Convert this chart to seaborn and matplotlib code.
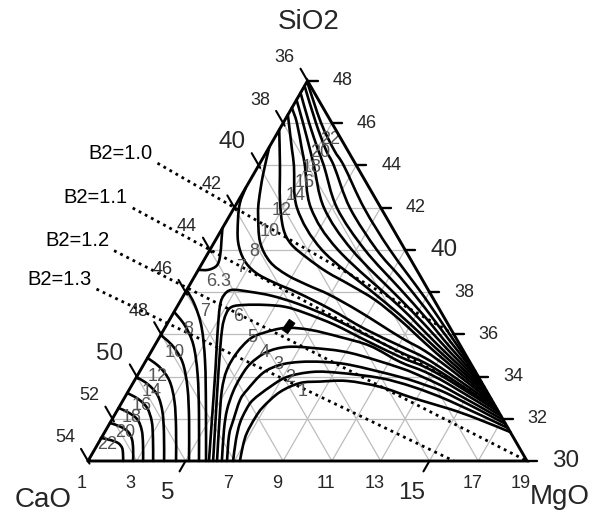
import numpy as np
import pandas as pd
import matplotlib
matplotlib.use("Agg")
import matplotlib.pyplot as plt
from matplotlib.path import Path
from matplotlib.patches import PathPatch
import seaborn as sns

# ---------------------------------------------------------------------------
# Composition window: CaO + SiO2 + MgO = 85 wt% (rest is Al2O3)
# ---------------------------------------------------------------------------
TOTAL = 85.0
SIO2_MIN = 30.0
MGO_MIN = 1.0
SPAN = 18.0

SIO2_TICKS = [30, 32, 34, 36, 38, 40, 42, 44, 46, 48]
CAO_TICKS = [36, 38, 40, 42, 44, 46, 48, 50, 52, 54]
MGO_TICKS = [1, 3, 5, 7, 9, 11, 13, 15, 17, 19]
SIO2_MAJOR = [30, 40]
CAO_MAJOR = [40, 50]
MGO_MAJOR = [5, 15]

# basicity lines B2 = CaO / SiO2
B2_VALUES = [1.0, 1.1, 1.2, 1.3]
B2_SIO2_START = [44.10, 41.98, 39.96, 38.14]
B2_SIO2_END = [36.00, 32.73, 30.00, 30.00]

# iso-lines running from the SiO2-rich corner down to the CaO = 36 side
UPPER_LEVELS = [22, 20, 18, 16, 14, 12, 10, 8, 7]
UPPER_SIO2 = [
    [47.90, 46.01, 44.73, 43.97, 41.98, 39.99, 37.72, 35.97, 34.22],
    [47.76, 46.01, 44.73, 43.97, 41.98, 39.99, 38.72, 37.25, 35.68, 33.98],
    [47.43, 46.01, 44.73, 43.97, 41.98, 39.99, 38.15, 36.82, 35.40, 33.74],
    [47.10, 46.01, 44.73, 43.97, 41.98, 39.99, 37.67, 36.44, 35.16, 33.51],
    [46.72, 46.01, 44.73, 43.97, 41.98, 39.99, 37.30, 36.11, 34.93, 33.32],
    [46.39, 44.73, 43.97, 41.98, 39.99, 38.10, 36.92, 35.83, 34.74, 33.13],
    [45.68, 44.02, 42.36, 41.04, 40.28, 39.62, 38.95, 38.34, 37.63, 36.68, 35.59, 34.55, 32.94],
    [44.87, 43.55, 42.36, 41.65, 40.37, 39.43, 38.81, 38.34, 37.86, 37.06, 35.87, 35.21, 34.36, 32.75],
    [42.93, 42.22, 41.42, 40.37, 39.52, 38.91, 38.43, 37.96, 37.20, 36.25, 35.45, 34.88, 34.12, 32.61],
]
UPPER_MGO = [
    [1.05, 2.55, 3.72, 4.51, 6.33, 8.39, 10.96, 12.86, 14.78],
    [1.00, 2.34, 3.39, 4.10, 5.75, 7.85, 9.43, 11.19, 13.00, 15.02],
    [1.00, 2.06, 3.07, 3.69, 5.22, 7.36, 9.72, 11.41, 13.14, 15.26],
    [1.00, 1.81, 2.74, 3.28, 4.69, 6.83, 9.96, 11.60, 13.26, 15.49],
    [1.00, 1.56, 2.41, 2.91, 4.15, 6.26, 10.14, 11.76, 13.38, 15.68],
    [1.00, 2.00, 2.46, 3.58, 5.60, 8.51, 10.33, 11.90, 13.47, 15.87],
    [1.00, 1.86, 2.69, 3.48, 4.18, 5.17, 6.32, 7.57, 8.95, 10.45, 12.02, 13.57, 16.06],
    [1.00, 1.40, 1.83, 2.15, 2.87, 3.75, 4.75, 5.81, 6.99, 8.62, 10.86, 12.21, 13.66, 16.25],
    [1.00, 1.12, 1.44, 1.97, 2.64, 3.43, 4.45, 5.63, 7.32, 9.23, 11.07, 12.38, 13.78, 16.39],
]

# low iso-lines rising from the SiO2 = 30 side and bending to the CaO = 36 side
MID_LEVELS = [6.3, 6, 5, 4, 3, 2, 1]
MID_SIO2 = [
    [30.0, 31.94, 34.31, 35.97, 37.34, 37.86, 38.10, 38.01, 37.82, 37.44, 36.82, 36.11, 35.16, 34.64, 33.93, 32.46],
    [30.0, 31.94, 34.31, 36.21, 36.96, 37.30, 37.39, 37.39, 37.30, 37.01, 36.44, 35.73, 34.93, 34.45, 33.79, 32.32],
    [30.0, 31.94, 33.36, 34.31, 35.12, 35.78, 36.06, 36.30, 36.21, 35.87, 35.45, 34.69, 34.22, 33.60, 32.13],
    [30.0, 31.47, 32.42, 33.27, 33.93, 34.59, 35.16, 35.40, 35.35, 35.12, 34.41, 33.93, 33.36, 31.94],
    [30.0, 31.23, 31.94, 32.89, 33.36, 34.17, 34.55, 34.69, 34.69, 34.55, 33.98, 33.60, 33.13, 31.75],
    [30.0, 30.99, 31.80, 32.42, 32.89, 33.51, 33.98, 34.22, 34.17, 33.93, 33.51, 32.84, 31.56],
    [30.0, 30.76, 31.33, 32.04, 32.56, 33.27, 33.69, 33.76, 33.79, 33.51, 32.98, 32.46, 32.04, 31.37],
]
MID_MGO = [
    [5.96, 5.11, 4.07, 3.32, 2.74, 2.65, 2.85, 3.64, 4.63, 5.89, 7.51, 9.10, 11.21, 12.50, 13.88, 16.54],
    [6.13, 5.26, 4.20, 3.39, 3.18, 3.25, 3.74, 4.56, 5.43, 6.39, 7.91, 9.49, 11.33, 12.59, 13.95, 16.68],
    [6.29, 5.42, 4.81, 4.54, 4.54, 4.75, 5.15, 5.93, 7.00, 8.40, 9.84, 11.45, 12.71, 14.04, 16.87],
    [6.49, 5.84, 5.49, 5.31, 5.27, 5.35, 5.75, 6.46, 7.55, 9.18, 11.59, 12.85, 14.16, 17.06],
    [6.70, 6.17, 5.99, 5.79, 5.84, 6.09, 6.60, 7.35, 8.29, 9.47, 11.80, 13.02, 14.28, 17.25],
    [6.95, 6.57, 6.33, 6.27, 6.32, 6.71, 7.17, 8.12, 9.25, 11.01, 12.57, 14.42, 17.44],
    [7.23, 6.98, 6.85, 6.83, 6.90, 7.24, 7.85, 8.63, 9.72, 11.22, 12.84, 14.61, 15.85, 17.63],
]

# closed 6.3 pocket on the MgO = 1 side
POCKET_LEVEL = 6.3
POCKET_SIO2 = [41.02, 40.47, 39.66, 39.24, 39.05, 39.05]
POCKET_MGO = [1.00, 1.24, 1.58, 1.65, 1.40, 1.00]

# iso-lines in the CaO-rich corner
LOWER_LEVELS = [7, 8, 10, 12, 14, 16, 18, 20, 22]
LOWER_SIO2 = [
    [38.10, 37.37, 36.32, 34.70, 32.59, 30.0],
    [37.06, 36.42, 35.50, 34.09, 32.26, 30.0],
    [35.97, 35.43, 34.66, 33.46, 31.91, 30.0],
    [34.88, 34.44, 33.80, 32.83, 31.56, 30.0],
    [33.98, 33.62, 33.10, 32.31, 31.27, 30.0],
    [33.22, 32.93, 32.51, 31.87, 31.03, 30.0],
    [32.51, 32.28, 31.96, 31.45, 30.81, 30.0],
    [31.80, 31.64, 31.40, 31.04, 30.58, 30.0],
    [31.09, 30.99, 30.85, 30.63, 30.35, 30.0],
]
LOWER_MGO = [
    [1.00, 1.70, 2.50, 3.45, 4.54, 5.84],
    [1.00, 1.76, 2.57, 3.45, 4.42, 5.55],
    [1.00, 1.77, 2.55, 3.35, 4.19, 5.14],
    [1.00, 1.72, 2.44, 3.13, 3.83, 4.61],
    [1.00, 1.66, 2.31, 2.90, 3.48, 4.12],
    [1.00, 1.60, 2.17, 2.68, 3.15, 3.67],
    [1.00, 1.54, 2.05, 2.48, 2.85, 3.26],
    [1.00, 1.48, 1.93, 2.28, 2.56, 2.85],
    [1.00, 1.43, 1.81, 2.08, 2.26, 2.44],
]

# measured composition (MgO, SiO2)
POINT_MGO = [6.0]
POINT_SIO2 = [36.4]

# where each iso-value is written: (value, MgO, SiO2)
LABEL_SPOTS = [
    (22, 3.32, 45.21), (20, 3.22, 44.59), (18, 3.24, 43.88), (16, 3.31, 43.17),
    (14, 3.25, 42.55), (12, 3.03, 41.84), (10, 3.04, 40.85), (8, 2.86, 39.90),
    (7, 2.70, 39.14), (6.3, 2.13, 38.48),
    (6, 3.74, 36.82), (5, 4.79, 35.87), (4, 5.70, 35.12), (3, 6.52, 34.55),
    (2, 7.32, 33.93), (1, 8.18, 33.27),
    (7, 2.27, 37.06), (8, 2.00, 36.21), (10, 1.99, 35.16), (12, 1.88, 33.98),
    (14, 1.99, 33.27), (16, 1.89, 32.65), (18, 1.76, 32.08), (20, 1.83, 31.37),
    (22, 1.40, 30.76),
]


def to_xy(mgo, sio2):
    """Ternary (MgO, SiO2) -> cartesian, CaO corner at the origin."""
    mgo = np.asarray(mgo, dtype=float)
    sio2 = np.asarray(sio2, dtype=float)
    b = (sio2 - SIO2_MIN) / SPAN
    t = (mgo - MGO_MIN) / SPAN
    return t + b / 2.0, b * np.sqrt(3.0) / 2.0


def smooth_path(x, y):
    """Cubic Bezier path passing through every given vertex."""
    pts = np.column_stack([x, y])
    n = len(pts)
    verts = [pts[0]]
    codes = [Path.MOVETO]
    for i in range(n - 1):
        p0 = pts[i - 1] if i > 0 else pts[i]
        p1 = pts[i]
        p2 = pts[i + 1]
        p3 = pts[i + 2] if i + 2 < n else pts[i + 1]
        verts += [p1 + (p2 - p0) / 6.0, p2 - (p3 - p1) / 6.0, p2]
        codes += [Path.CURVE4] * 3
    return Path(verts, codes)


sns.set_theme(style="white")
plt.rcParams["font.family"] = ["Liberation Sans", "DejaVu Sans"]

PX = 439.0
fig = plt.figure(figsize=(5.97, 5.14), dpi=100)
ax = fig.add_axes([0, 0, 1, 1])
ax.set_xlim(-88 / PX, 509 / PX)
ax.set_ylim(-53 / PX, 461 / PX)
ax.axis("off")

H = np.sqrt(3.0) / 2.0
GRID = "#bdbdbd"

# light triangular grid
for s in range(32, 48, 2):
    gx, gy = to_xy([MGO_MIN, TOTAL - 36 - s], [s, s])
    ax.plot(gx, gy, color=GRID, lw=0.9, zorder=1)
for m in range(3, 19, 2):
    gx, gy = to_xy([m, m], [SIO2_MIN, TOTAL - 36 - m])
    ax.plot(gx, gy, color=GRID, lw=0.9, zorder=1)
for c in range(38, 54, 2):
    gx, gy = to_xy([TOTAL - SIO2_MIN - c, MGO_MIN], [SIO2_MIN, TOTAL - MGO_MIN - c])
    ax.plot(gx, gy, color=GRID, lw=0.9, zorder=1)

# basicity lines
for b2, s0, s1 in zip(B2_VALUES, B2_SIO2_START, B2_SIO2_END):
    sio2 = np.array([s0, s1])
    mgo = TOTAL - (1.0 + b2) * sio2
    bx, by = to_xy(mgo, sio2)
    sns.lineplot(x=bx, y=by, sort=False, estimator=None, color="black",
                 lw=2.0, linestyle=(0, (1, 1.5)), ax=ax, zorder=3)
    ax.annotate(f"B2={b2:.1f}", xy=(bx[0], by[0]), xytext=(-5, 10),
                textcoords="offset pixels", ha="right", va="center",
                fontsize=14.5, color="black", annotation_clip=False)

# iso-lines
groups = [
    (UPPER_LEVELS, UPPER_MGO, UPPER_SIO2),
    (MID_LEVELS, MID_MGO, MID_SIO2),
    (LOWER_LEVELS, LOWER_MGO, LOWER_SIO2),
    ([POCKET_LEVEL], [POCKET_MGO], [POCKET_SIO2]),
]
for levels, mgos, sio2s in groups:
    for lev, mg, si in zip(levels, mgos, sio2s):
        cx, cy = to_xy(mg, si)
        ax.add_patch(PathPatch(smooth_path(cx, cy), fill=False, ec="black",
                               lw=1.9, capstyle="round", joinstyle="round", zorder=4))

for lev, mg, si in LABEL_SPOTS:
    lx, ly = to_xy(mg, si)
    ax.text(lx, ly, f"{lev:g}", ha="center", va="center", fontsize=13,
            color="#555555", zorder=5)

# measured point: small tilted bar
bar = Path([(-0.3, -0.55), (0.3, -0.55), (0.3, 0.55), (-0.3, 0.55), (-0.3, -0.55)],
           [Path.MOVETO, Path.LINETO, Path.LINETO, Path.LINETO, Path.CLOSEPOLY])
bar = bar.transformed(matplotlib.transforms.Affine2D().rotate_deg(-35))
px_, py_ = to_xy(POINT_MGO, POINT_SIO2)
sns.scatterplot(x=px_, y=py_, marker=bar, s=110, color="black",
                edgecolor="black", linewidth=0.5, ax=ax, zorder=6, legend=False)

# triangle frame
ax.plot([0, 1, 0.5, 0], [0, 0, H, 0], color="black", lw=2.1,
        solid_joinstyle="miter", zorder=7)

# SiO2 scale on the right side
for s in SIO2_TICKS:
    tx, ty = to_xy(TOTAL - 36 - s, s)
    ax.plot([tx, tx + 10 / PX], [ty, ty], color="black", lw=1.7, zorder=7)
    big = s in SIO2_MAJOR
    ax.annotate(str(s), xy=(tx, ty), xytext=(39 if big else 35, 0),
                textcoords="offset pixels", ha="center", va="center",
                fontsize=17.5 if big else 13, annotation_clip=False)

# CaO scale on the left side
for c in CAO_TICKS:
    tx, ty = to_xy(MGO_MIN, TOTAL - MGO_MIN - c)
    out, inn = 14 / PX, 3 / PX
    ax.plot([tx + 0.5 * inn, tx - 0.5 * out], [ty - H * inn, ty + H * out],
            color="black", lw=1.5, zorder=7)
    big = c in CAO_MAJOR
    ax.annotate(str(c), xy=(tx, ty), xytext=(-27 if big else -23, 23),
                textcoords="offset pixels", ha="center", va="center",
                fontsize=17.5 if big else 13, annotation_clip=False)

# MgO scale along the bottom
for m in MGO_TICKS:
    tx, ty = to_xy(m, SIO2_MIN)
    big = m in MGO_MAJOR
    if big:
        ln = 12 / PX
        ax.plot([tx, tx - 0.5 * ln], [ty, ty - H * ln], color="black", lw=1.5, zorder=7)
    ax.annotate(str(m), xy=(tx, ty), xytext=(-18, -32) if big else (-6, -22),
                textcoords="offset pixels", ha="center", va="center",
                fontsize=17.5 if big else 13, annotation_clip=False)

# corner names
fig.text(309 / 597, 1 - 22 / 514, "SiO2", ha="center", va="center", fontsize=20)
fig.text(43 / 597, 1 - 500 / 514, "CaO", ha="center", va="center", fontsize=20)
fig.text(560 / 597, 1 - 497 / 514, "MgO", ha="center", va="center", fontsize=20)

fig.savefig("out.png", dpi=100, facecolor="white")
